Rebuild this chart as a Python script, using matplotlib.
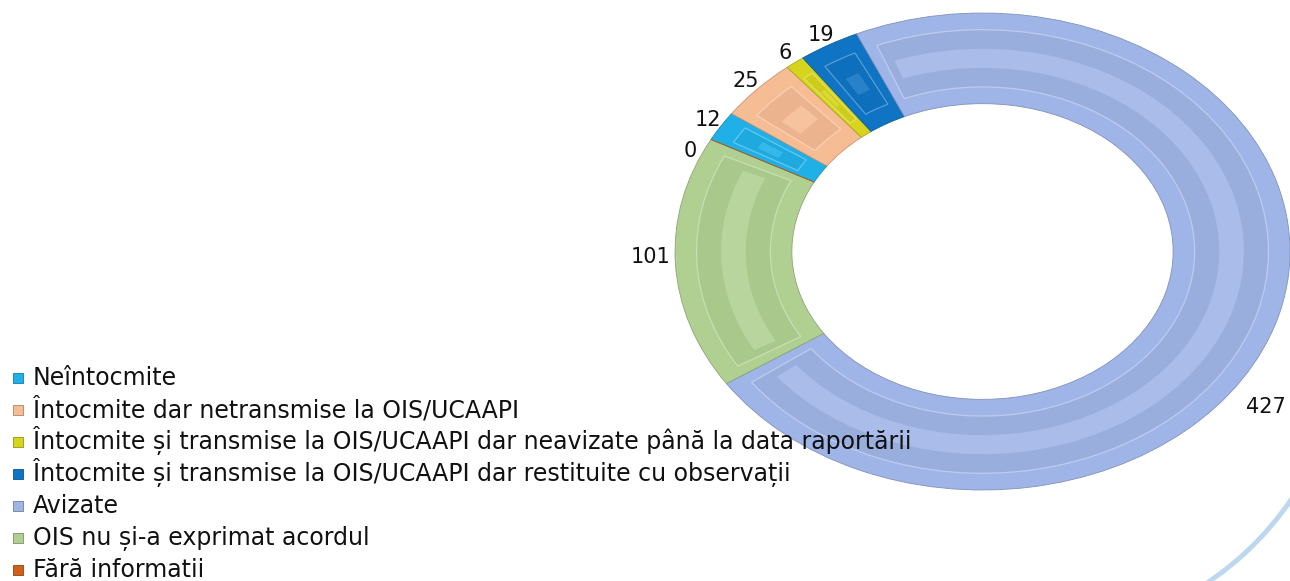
import numpy as np
import matplotlib.pyplot as plt
from matplotlib.patches import Wedge, Arc
from matplotlib import colors as mcolors

plt.rcParams['font.family'] = ['DejaVu Sans']

categories = ['Neîntocmite',
              'Întocmite dar netransmise la OIS/UCAAPI',
              'Întocmite și transmise la OIS/UCAAPI dar neavizate până la data raportării',
              'Întocmite și transmise la OIS/UCAAPI dar restituite cu observații',
              'Avizate',
              'OIS nu și-a exprimat acordul',
              'Fără informatii']
values = [12, 25, 6, 19, 427, 101, 0]
colors = ['#1fb0e8', '#f6bc94', '#d6d41c', '#0f74c4', '#a0b5e7', '#b0d092', '#d0601a']


def shade(c, f):
    r = np.array(mcolors.to_rgb(c))
    if f < 0:
        return tuple(r * (1 + f))
    return tuple(r + (1 - r) * f)


def pixel_axes(z):
    a = fig.add_axes([0, 0, 1, 1], zorder=z)
    a.set_xlim(0, W)
    a.set_ylim(H, 0)
    a.axis('off')
    a.patch.set_alpha(0)
    return a


W, H = 1290, 581
fig = plt.figure(figsize=(W / 100, H / 100), dpi=100)

# slide arc in the background
bg = pixel_axes(0)
bg.add_patch(Arc((1035, 325), 620, 620, theta1=20, theta2=75,
                 color='#bdd7ee', lw=3.5))

# donut (elliptical because of perspective)
ax = fig.add_axes([675 / W, (H - 490) / H, (1290 - 675) / W, 477 / H], zorder=2)
wedges, texts = ax.pie(values, colors=colors, startangle=152, counterclock=False,
                       radius=1, labels=[str(v) for v in values], labeldistance=1.05,
                       wedgeprops=dict(width=0.38, linewidth=0.6),
                       textprops=dict(fontsize=15, color='#111111'))
ax.set_aspect('auto')
ax.set_xlim(-1, 1)
ax.set_ylim(-1, 1)

# bevel look: inset face and light rim on each segment
for w, c in zip(wedges, colors):
    w.set_edgecolor(shade(c, -0.2))
    if w.theta2 - w.theta1 < 0.5:
        continue
    pad = min(2.5, (w.theta2 - w.theta1) * 0.2)
    ax.add_patch(Wedge((0, 0), 0.93, w.theta1 + pad, w.theta2 - pad, width=0.24,
                       facecolor=shade(c, -0.04), edgecolor=shade(c, 0.3), lw=0.9))
    ax.add_patch(Wedge((0, 0), 0.85, w.theta1 + pad * 1.8, w.theta2 - pad * 1.8,
                       width=0.08, facecolor=shade(c, 0.1), edgecolor='none'))

for t in texts:
    t.set_ha('center')
    t.set_va('center')
texts[5].set_position((-1.08, -0.025))
texts[6].set_position((-0.95, 0.42))
texts[4].set_position((0.92, -0.65))

# legend on top of the donut, evenly spaced rows
fg = pixel_axes(3)
for i, (lab, c) in enumerate(zip(categories, colors)):
    base = 385 + i * 32
    fg.scatter([18], [base - 7], marker='s', s=60, color=c,
               edgecolors=[shade(c, -0.3)], linewidths=0.6)
    fg.text(33, base, lab, fontsize=17, ha='left', va='baseline', color='#111111')

fig.savefig('out.png', dpi=100)
